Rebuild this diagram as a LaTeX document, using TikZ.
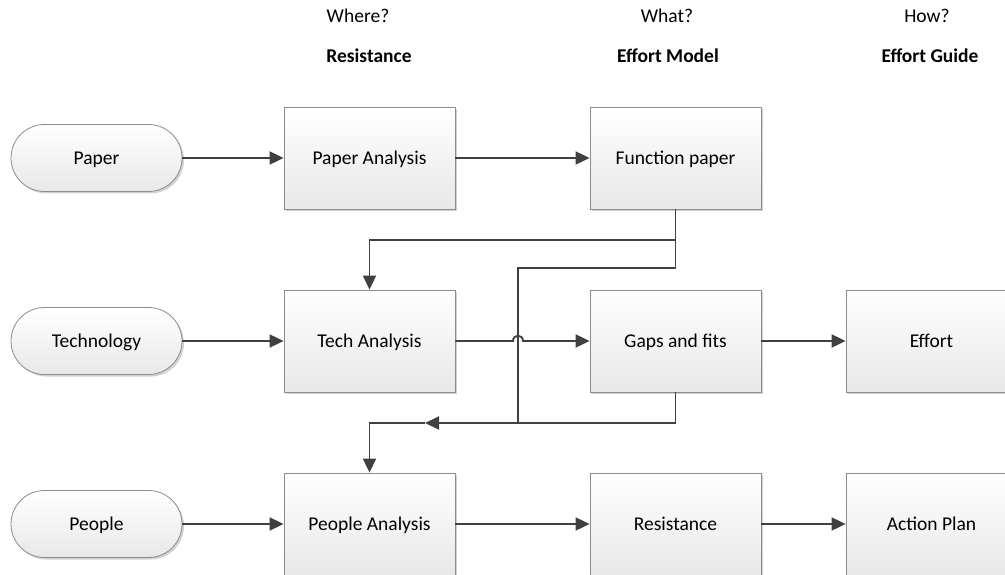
\documentclass[tikz,border=0pt]{standalone}
\usepackage{fontspec}
\setmainfont{Carlito}
\usetikzlibrary{arrows.meta,shadows,calc}
\begin{document}
\begin{tikzpicture}[x=1pt,y=-1pt,
 font=\fontsize{19.5}{23}\selectfont,
 box/.style={draw=black!45, line width=0.8pt, top color=white, bottom color=black!9,
   minimum width=171pt, minimum height=102pt, inner sep=0pt,
   text height=15pt, text depth=2pt,
   drop shadow={shadow xshift=2pt, shadow yshift=-2pt, opacity=0.18, fill=black}},
 term/.style={box, minimum height=67pt, rounded corners=33.5pt},
 line/.style={draw=black!75, line width=1.9pt},
 conn/.style={line, -{Triangle[length=14pt,width=13pt]}},
 hdr/.style={anchor=center, text height=15pt, text depth=2pt},
 hdrb/.style={hdr, font=\fontsize{19.5}{23}\selectfont\bfseries},
]
\useasboundingbox (0,0) rectangle (1005,575);

% headers
\node[hdr] (h1) at (358,16) {Where?};
\node[hdrb] (h1b) at (369,56) {Resistance};
\node[hdr] (h2) at (667,16) {What?};
\node[hdrb] (h2b) at (668,56) {Effort Model};
\node[hdr] (h3) at (927,16) {How?};
\node[hdrb] (h3b) at (930,56) {Effort Guide};

% terminals
\node[term] (paper) at (96.5,158) {Paper};
\node[term] (tech) at (96.5,341) {Technology};
\node[term] (people) at (96.5,524) {People};

% boxes
\node[box] (pa) at (369.5,158) {Paper Analysis};
\node[box] (fp) at (675.5,158) {Function paper};
\node[box] (ta) at (369.5,341) {Tech Analysis};
\node[box] (gf) at (675.5,341) {Gaps and fits};
\node[box] (ef) at (931.5,341) {Effort};
\node[box] (pan) at (369.5,524) {People Analysis};
\node[box] (res) at (675.5,524) {Resistance};
\node[box] (ap) at (931.5,524) {Action Plan};

% helper coordinates
\coordinate (t1) at (675.5,240);
\coordinate (vx) at (518,268);
\coordinate (bot) at (518,423);
\coordinate (mid) at (425,423);
\path (vx |- ta.east) coordinate (jc);

% straight connectors
\draw[conn] (paper.east) -- (pa.west);
\draw[conn] (pa.east) -- (fp.west);
\draw[conn] (tech.east) -- (ta.west);
\draw[conn] (gf.east) -- (ef.west);
\draw[conn] (people.east) -- (pan.west);
\draw[conn] (pan.east) -- (res.west);
\draw[conn] (res.east) -- (ap.west);

% function paper -> tech analysis
\draw[conn] (fp.south) -- (t1) -- (ta.north |- t1) -- (ta.north);
% function paper -> bottom bus
\draw[line] (fp.south) -- (fp.south |- vx) -- (vx) -- (bot);
% gaps and fits -> people analysis
\draw[conn] (gf.south) -- (gf.south |- bot) -- (mid);
\draw[conn] (mid) -- (pan.north |- mid) -- (pan.north);

% tech analysis -> gaps with line jump
\draw[conn] (ta.east) -- ([xshift=-5pt]jc)
  .. controls +(0,-7) and +(0,-7) .. ([xshift=5pt]jc) -- (gf.west);
\end{tikzpicture}
\end{document}
